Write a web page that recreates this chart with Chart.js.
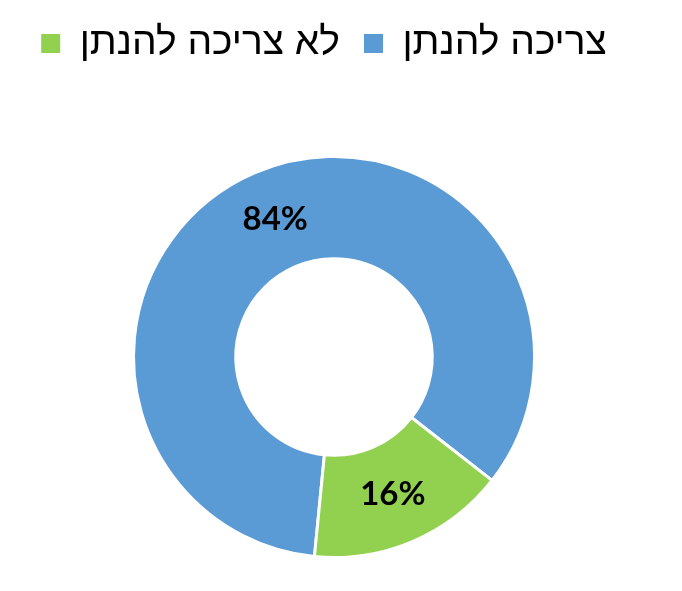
<!DOCTYPE html>
<html>
<head>
<meta charset="utf-8">
<script src="https://cdn.jsdelivr.net/npm/chart.js@4/dist/chart.umd.min.js"></script>
<style>
  html, body { margin: 0; padding: 0; background: #fff; }
  #wrap { width: 682px; height: 591px; }
</style>
</head>
<body>
<div id="wrap"><canvas id="pie"></canvas></div>
<script>
const labels = ["צריכה להנתן", "לא צריכה להנתן"];
const values = [84, 16];
const colors = ["#5B9BD5", "#92D050"];

// percent labels in the middle of each ring slice
const sliceLabels = {
  id: "sliceLabels",
  afterDatasetsDraw(chart) {
    const ctx = chart.ctx;
    const meta = chart.getDatasetMeta(0);
    const total = values.reduce((a, b) => a + b, 0);
    ctx.save();
    ctx.font = "bold 33px Lato, 'Open Sans', sans-serif";
    ctx.fillStyle = "#000";
    ctx.textAlign = "center";
    ctx.textBaseline = "middle";
    meta.data.forEach((arc, i) => {
      const p = arc.tooltipPosition();
      ctx.fillText(Math.round(values[i] / total * 100) + "%", p.x, p.y);
    });
    ctx.restore();
  }
};

// keep a big gap under the legend, and nudge it a bit left like the original
const legendGap = {
  id: "legendGap",
  beforeInit(chart) {
    const fit = chart.legend.fit;
    chart.legend.fit = function () {
      fit.call(this);
      this.height = 155;
    };
  },
  afterLayout(chart) {
    chart.legend.left -= 10;
    chart.legend.right -= 10;
  }
};

new Chart(document.getElementById("pie"), {
  type: "doughnut",
  data: {
    labels: labels,
    datasets: [{
      data: values,
      backgroundColor: colors,
      borderColor: "#fff",
      borderWidth: 3,
      hoverOffset: 0
    }]
  },
  options: {
    responsive: true,
    maintainAspectRatio: false,
    animation: false,
    rotation: 185.6,
    cutout: "49%",
    layout: { padding: { top: 0, right: 14, bottom: 32, left: 0 } },
    plugins: {
      tooltip: { enabled: false },
      legend: {
        position: "top",
        reverse: true,
        labels: {
          boxWidth: 19,
          boxHeight: 19,
          padding: 24,
          color: "#000",
          font: { size: 39, family: "'Liberation Sans', 'DejaVu Sans', sans-serif" },
          generateLabels(chart) {
            const items = Chart.overrides.doughnut.plugins.legend.labels.generateLabels(chart);
            items.forEach(it => { it.lineWidth = 0; it.strokeStyle = "rgba(0,0,0,0)"; });
            return items;
          }
        }
      }
    }
  },
  plugins: [sliceLabels, legendGap]
});
</script>
</body>
</html>
